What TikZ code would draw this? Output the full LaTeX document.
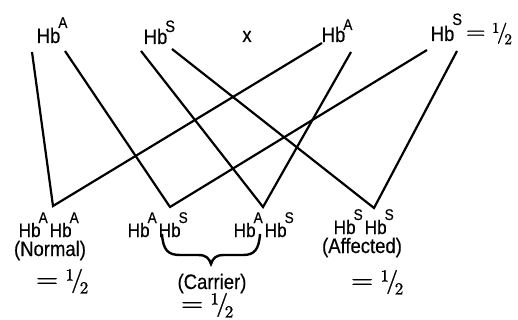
\documentclass[tikz,border=0pt]{standalone}
\usepackage{graphicx}
\usepackage{fontspec}
\newfontfamily\hbfont[FakeStretch=0.88,FakeBold=0.4]{Liberation Sans}
\newfontfamily\lmr[FakeBold=1.2]{lmroman10-regular.otf}
\newcommand{\hbx}[3]{Hb\kern-2pt\raisebox{#1}{\fontsize{#2}{#2}\selectfont #3}}
\newcommand{\halfeq}[2]{{\lmr\fontsize{#1}{#1}\selectfont\scalebox{1.2}[1]{=}\hspace{0.3em}\raisebox{0.27em}{\fontsize{#2}{#2}\selectfont 1}\kern-0.12em/\kern-0.14em\raisebox{-0.27em}{\fontsize{#2}{#2}\selectfont 2}}}
\begin{document}
\begin{tikzpicture}[x=1pt,y=-1pt,
  toplbl/.style={inner sep=0pt,font=\hbfont\fontsize{21}{21}\selectfont},
  botlbl/.style={inner sep=0pt,font=\hbfont\fontsize{19.5}{19.5}\selectfont},
  caplbl/.style={inner sep=0pt,font=\hbfont\fontsize{21}{21}\selectfont},
  frac/.style={inner sep=0pt},
  conn/.style={line width=2.2pt,black}]
\useasboundingbox (0,0) rectangle (518,320);
% top row
\node[toplbl,anchor=base west] (tA1) at (36.5,43) {\hbx{15pt}{15.5}{A}};
\node[toplbl,anchor=base west] (tS1) at (143.5,44) {\hbx{12pt}{16.5}{S}};
\node[toplbl,anchor=base] (tx) at (247,42) {x};
\node[toplbl,anchor=base west] (tA2) at (321.5,42) {\hbx{12pt}{15.5}{A}};
\node[toplbl,anchor=base west] (tS2) at (430.5,41) {\hbx{16pt}{16.5}{S}\kern4pt\raisebox{2.5pt}{\halfeq{21}{15}}};
% bottom row
\node[botlbl,anchor=base west] (bN) at (18.5,237) {\hbx{14pt}{15.5}{A}\kern2pt\hbx{14pt}{15.5}{A}};
\node[botlbl,anchor=base west] (bC1) at (127.5,237) {\hbx{14pt}{15.5}{A}\kern2pt\hbx{14pt}{15.5}{S}};
\node[botlbl,anchor=base west] (bC2) at (233.5,237) {\hbx{14pt}{15.5}{A}\kern2pt\hbx{14pt}{15.5}{S}};
\node[botlbl,anchor=base west] (bAf) at (333.5,234) {\hbx{14pt}{15.5}{S}\kern2pt\hbx{14pt}{15.5}{S}};
\node[caplbl,anchor=base] (nN) at (50,256) {(Normal)};
\node[caplbl,anchor=base] (nC) at (212,289) {(Carrier)};
\node[caplbl,anchor=base] (nAf) at (362,253) {(Affected)};
\node[frac,anchor=base west] (hN) at (35.7,287) {\halfeq{24}{17}};
\node[frac,anchor=base west] (hC) at (180.7,311) {\halfeq{24}{17}};
\node[frac,anchor=base west] (hAf) at (350.7,288) {\halfeq{24}{17}};
% brace
\draw[line width=2.4pt] (162,234) .. controls (163,250) and (168,255) .. (180,255)
  -- (198,255) .. controls (206,255) and (209,258) .. (211,264)
  .. controls (213,258) and (216,255) .. (224,255)
  -- (243,255) .. controls (254,255) and (259,250) .. (260,234);
% connector ends
\coordinate (a1l) at (32,52);
\coordinate (a1r) at (65,51);
\coordinate (s1l) at (141,51);
\coordinate (s1r) at (172,49);
\coordinate (a2l) at (322,43);
\coordinate (a2r) at (351,52);
\coordinate (s2l) at (427,50);
\coordinate (s2r) at (457,51);
\coordinate (vN) at (53,206);
\coordinate (vC1) at (170,207);
\coordinate (vC2) at (263,207);
\coordinate (vAf) at (374,208);
\draw[conn] (a1l) -- (vN) -- (a2l);
\draw[conn] (a1r) -- (vC1) -- (s2l);
\draw[conn] (s1l) -- (vC2) -- (a2r);
\draw[conn] (s1r) -- (vAf) -- (s2r);
\end{tikzpicture}
\end{document}
